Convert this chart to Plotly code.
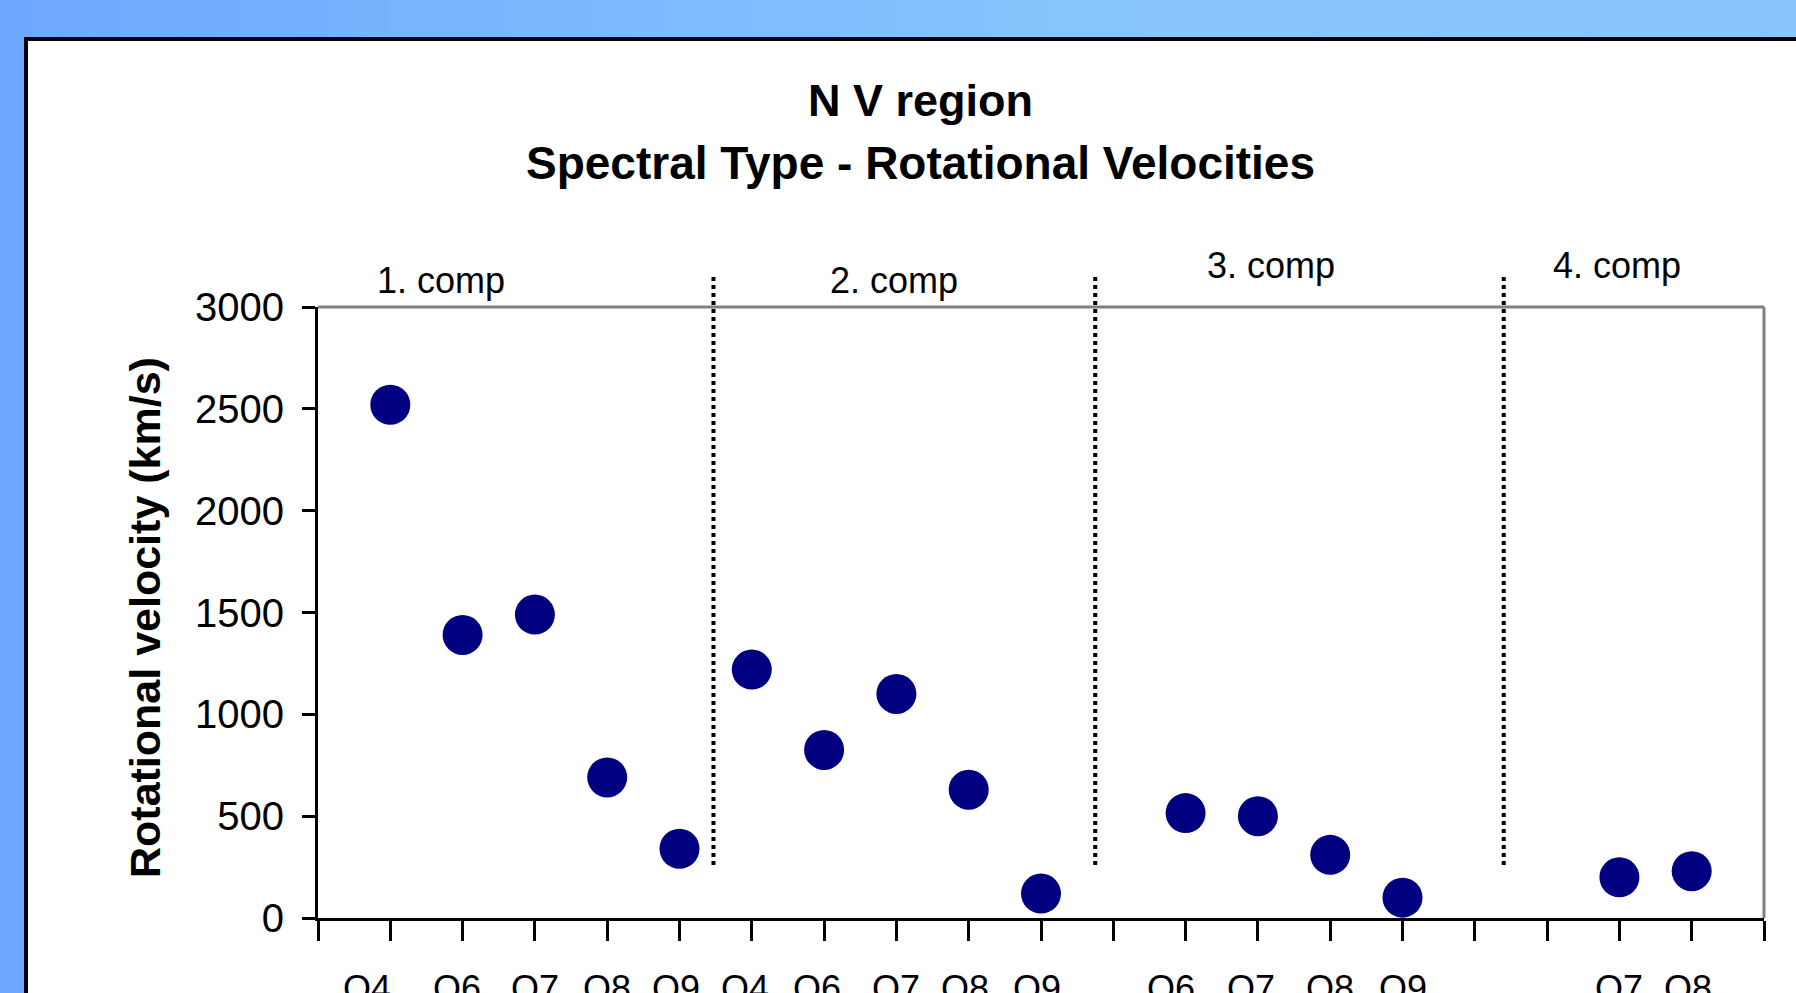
import plotly.graph_objects as go

# ---- data ----
x_pos = [1, 2, 3, 4, 5, 6, 7, 8, 9, 10, 12, 13, 14, 15, 18, 19]
velocity = [2520, 1390, 1490, 690, 340, 1220, 825, 1100, 630, 120,
            515, 500, 310, 100, 200, 230]
spectral_labels = ["O4", "O6", "O7", "O8", "O9", "O4", "O6", "O7", "O8", "O9",
                   "O6", "O7", "O8", "O9", "O7", "O8"]
label_x = [0.68, 1.92, 3.0, 4.0, 4.95, 5.9, 6.9, 8.0, 8.95, 9.95,
           11.8, 12.9, 14.0, 15.0, 18.0, 18.95]
comp_names = ["1. comp", "2. comp", "3. comp", "4. comp"]
comp_x = [1.7, 7.96, 13.18, 17.97]
dividers = [5.47, 10.75, 16.4]
y_ticks = [0, 500, 1000, 1500, 2000, 2500, 3000]

# ---- layout geometry (pixels) ----
W, H = 1796, 993
L, R, T, B = 318, 1764, 307, 918
FONT = "Liberation Sans, Arial, sans-serif"


def px2x(px):
    return (px - L) / (R - L)


def py2y(py):
    return (B - py) / (B - T)


fig = go.Figure()
fig.add_trace(go.Scatter(
    x=x_pos, y=velocity, mode="markers",
    marker=dict(size=40, color="#000080", line=dict(width=0)),
    showlegend=False, hoverinfo="x+y",
))

shapes = []
# gradient top band
n = 60
c0 = (108, 168, 255)
c1 = (138, 198, 253)
for i in range(n):
    xa = W * i / n
    xb = W * (i + 1) / n + 1
    t = min((xa + xb) / 2 / 1150.0, 1.0)
    col = tuple(int(round(c0[k] + (c1[k] - c0[k]) * t)) for k in range(3))
    shapes.append(dict(type="rect", xref="paper", yref="paper",
                       x0=px2x(xa), x1=px2x(xb), y0=py2y(-5), y1=py2y(41),
                       fillcolor="rgb(%d,%d,%d)" % col, line=dict(width=0),
                       layer="below"))
# white panel with black border
shapes.append(dict(type="rect", xref="paper", yref="paper",
                   x0=px2x(26), x1=px2x(1900), y0=py2y(39), y1=py2y(1100),
                   fillcolor="white", line=dict(color="black", width=4),
                   layer="below"))
# gray top & right border of plot area
shapes.append(dict(type="line", xref="paper", yref="paper", x0=0, x1=1, y0=1, y1=1,
                   line=dict(color="#808080", width=3)))
shapes.append(dict(type="line", xref="paper", yref="paper", x0=1, x1=1, y0=0, y1=1,
                   line=dict(color="#808080", width=3)))
# dotted dividers
for d in dividers:
    shapes.append(dict(type="line", xref="x", yref="paper", x0=d, x1=d,
                       y0=py2y(865), y1=py2y(277),
                       line=dict(color="black", width=4, dash="4px,4px")))

annotations = []
annotations.append(dict(text="<b>N V region</b>", xref="paper", yref="paper",
                        x=px2x(920), y=py2y(101), xanchor="center", yanchor="middle",
                        showarrow=False, font=dict(size=45, color="black", family=FONT)))
annotations.append(dict(text="<b>Spectral Type - Rotational Velocities</b>",
                        xref="paper", yref="paper",
                        x=px2x(920), y=py2y(163), xanchor="center", yanchor="middle",
                        showarrow=False, font=dict(size=46, color="black", family=FONT)))
annotations.append(dict(text="<b>Rotational velocity (km/s)</b>", xref="paper", yref="paper",
                        x=px2x(145), y=py2y(618), xanchor="center", yanchor="middle",
                        textangle=-90, showarrow=False,
                        font=dict(size=43, color="black", family=FONT)))
comp_y = [280, 280, 265, 265]
for name, cx, cy in zip(comp_names, comp_x, comp_y):
    annotations.append(dict(text=name, xref="x", yref="paper", x=cx, y=py2y(cy),
                            xanchor="center", yanchor="middle", showarrow=False,
                            font=dict(size=36, color="black", family=FONT)))
for lab, lx in zip(spectral_labels, label_x):
    annotations.append(dict(text=lab, xref="x", yref="paper", x=lx, y=py2y(988),
                            xanchor="center", yanchor="middle", showarrow=False,
                            font=dict(size=36, color="black", family=FONT)))

fig.update_layout(
    width=W, height=H,
    margin=dict(l=L, r=W - R, t=T, b=H - B, pad=0),
    paper_bgcolor="rgb(108,168,255)",
    plot_bgcolor="white",
    shapes=shapes,
    annotations=annotations,
    font=dict(family=FONT, color="black"),
    xaxis=dict(range=[0, 20], tickmode="linear", tick0=0, dtick=1,
               showticklabels=False, ticks="outside", ticklen=20, tickwidth=3,
               tickcolor="black", showline=True, linecolor="black", linewidth=3,
               showgrid=False, zeroline=False, fixedrange=True),
    yaxis=dict(range=[0, 3000], tickmode="array", tickvals=y_ticks,
               ticks="outside", ticklen=13, tickwidth=3, tickcolor="black",
               showline=True, linecolor="black", linewidth=3,
               showgrid=False, zeroline=False, ticklabelstandoff=10,
               tickfont=dict(size=40, color="black", family=FONT), fixedrange=True),
)

fig.write_html(
    "out.html",
    config={"displayModeBar": False},
    post_script="document.body.style.margin='0';document.body.style.overflow='hidden';",
)
